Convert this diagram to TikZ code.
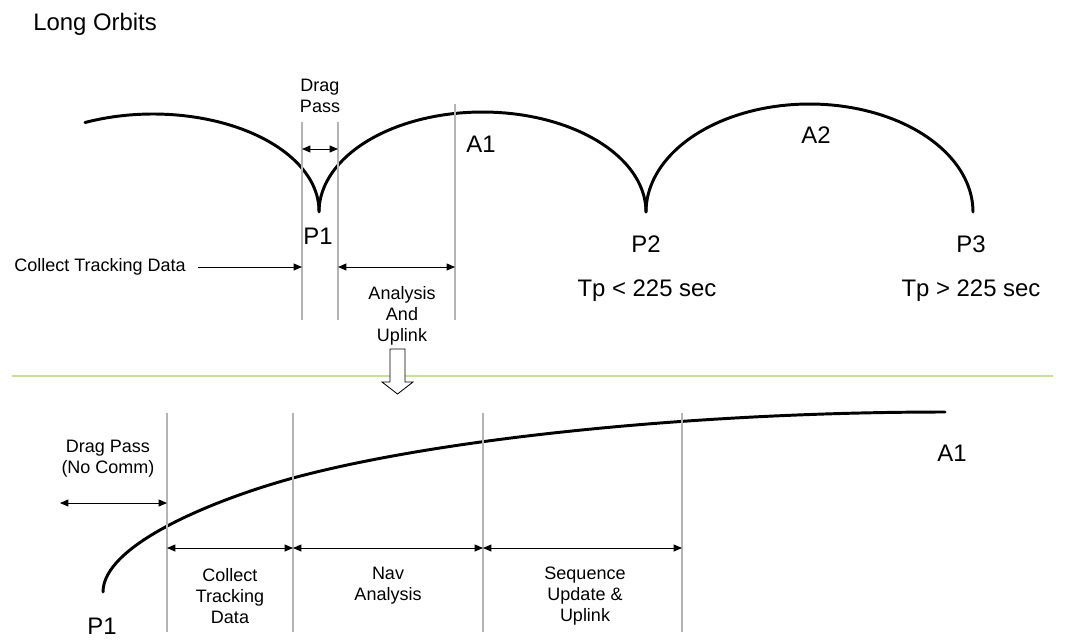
\documentclass[tikz,border=0pt]{standalone}
\usepackage{fontspec}
\setmainfont{Liberation Sans}
\usetikzlibrary{arrows.meta}
\definecolor{guidegray}{HTML}{B4B4B4}
\definecolor{splitgreen}{HTML}{C8E09C}

\begin{document}
\begin{tikzpicture}[
      x=0.025cm, y=-0.025cm,
      orbit/.style={line width=2.1pt, line cap=round},
      guide/.style={draw=guidegray, line width=1pt},
      spanarrow/.style={line width=0.7pt},
      lbl/.style={font=\fontsize{12.8}{15}\selectfont, align=center, inner sep=0pt},
      big/.style={font=\fontsize{17}{20}\selectfont, inner sep=0pt},
      >={Triangle[length=6pt,width=5pt]}
    ]
      \useasboundingbox (0,0) rectangle (1070,639);

      % title
      \node[big, anchor=west] (title) at (33,24) {Long Orbits};

      % long orbit arcs
      \draw[orbit] plot[domain=245.8:360, samples=60]
        ({153+166*cos(\x)}, {211+97*sin(\x)});
      \draw[orbit] plot[domain=180:360, samples=80]
        ({482.5+163.5*cos(\x)}, {212+100*sin(\x)});
      \draw[orbit] plot[domain=180:360, samples=80]
        ({809.5+163.5*cos(\x)}, {212+108*sin(\x)});

      % guide lines (top)
      \coordinate (gt1) at (302,122); \coordinate (gb1) at (302,320);
      \coordinate (gt2) at (338,122); \coordinate (gb2) at (338,320);
      \coordinate (gt3) at (455,104); \coordinate (gb3) at (455,320);
      \draw[guide] (gt1) -- (gb1);
      \draw[guide] (gt2) -- (gb2);
      \draw[guide] (gt3) -- (gb3);

      \node[lbl] (dragpass) at (320,96) {Drag\\Pass};
      \node[big] (p1) at (318,236) {P1};
      \node[big] (a1) at (481,144) {A1};
      \node[big] (a2) at (816,135) {A2};
      \node[big] (p2) at (646,244) {P2};
      \node[big] (p3) at (971,244) {P3};
      \node[big] (tpless) at (647,291) {Tp < 225 sec};
      \node[big] (tpmore) at (971,291) {Tp > 225 sec};
      \node[lbl] (collect) at (100,267) {Collect Tracking Data};
      \node[lbl] (analysis) at (402,316) {Analysis\\And\\Uplink};

      \coordinate (dl) at (302,149); \coordinate (dr) at (338,149);
      \coordinate (cs) at (198,267); \coordinate (ce) at (302,267);
      \coordinate (as) at (338,267); \coordinate (ae) at (455,267);
      \draw[spanarrow, <->] (dl) -- (dr);
      \draw[spanarrow, ->] (cs) -- (ce);
      \draw[spanarrow, <->] (as) -- (ae);

      % divider and hollow arrow
      \coordinate (divl) at (12,376); \coordinate (divr) at (1053,376);
      \draw[splitgreen, line width=0.8pt] (divl) -- (divr);
      \draw[fill=white, line width=0.6pt]
        (390,349) -- (405,349) -- (405,382) -- (413,382) -- (397.5,394)
        -- (382,382) -- (390,382) -- cycle;

      % zoomed arc near P1
      \draw[orbit] (103,592) .. controls (103,545) and (213,500) .. (293,478)
        .. controls (443,437.5) and (700,412) .. (945,412);

      \coordinate (bt1) at (167,413); \coordinate (bb1) at (167,632);
      \coordinate (bt2) at (293,413); \coordinate (bb2) at (293,632);
      \coordinate (bt3) at (483,413); \coordinate (bb3) at (483,632);
      \coordinate (bt4) at (682,413); \coordinate (bb4) at (682,632);
      \draw[guide] (bt1) -- (bb1);
      \draw[guide] (bt2) -- (bb2);
      \draw[guide] (bt3) -- (bb3);
      \draw[guide] (bt4) -- (bb4);

      \node[lbl] (nocomm) at (108,459) {Drag Pass\\(No Comm)};
      \node[lbl] (tracking) at (230,596) {Collect\\Tracking\\Data};
      \node[lbl] (navan) at (388,586) {Nav\\Analysis};
      \node[lbl] (sequp) at (585,596) {Sequence\\Update \&\\Uplink};
      \node[big] (p1b) at (102,626) {P1};
      \node[big] (a1b) at (952,453) {A1};

      \coordinate (ns) at (60,503); \coordinate (ne) at (167,503);
      \coordinate (m1) at (167,548); \coordinate (m2) at (293,548);
      \coordinate (m3) at (483,548); \coordinate (m4) at (682,548);
      \draw[spanarrow, <->] (ns) -- (ne);
      \draw[spanarrow, <->] (m1) -- (m2);
      \draw[spanarrow, <->] (m2) -- (m3);
      \draw[spanarrow, <->] (m3) -- (m4);
    \end{tikzpicture}
\end{document}
